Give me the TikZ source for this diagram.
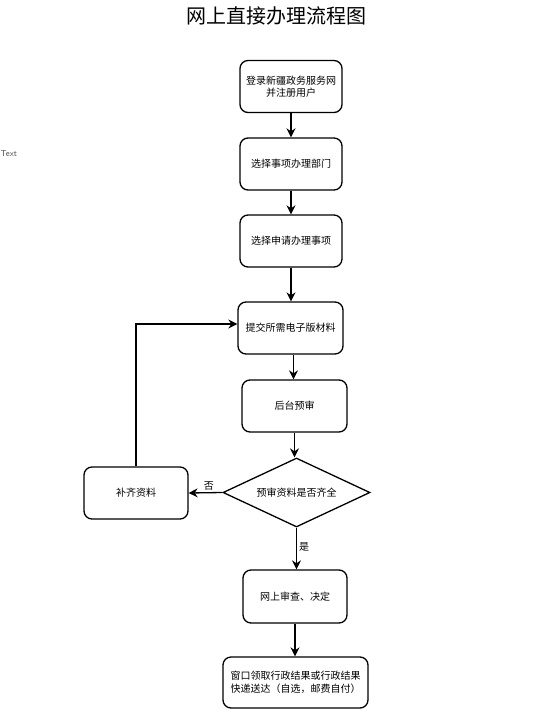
\documentclass[tikz,border=0pt]{standalone}
\usepackage{fontspec}
\newfontfamily\cjk{Noto Sans CJK SC}
\usetikzlibrary{shapes.geometric,arrows.meta}
\begin{document}
\begin{tikzpicture}[x=1pt,y=-1pt,
  box/.style={draw,line width=1.3pt,rounded corners=8pt,minimum width=102pt,minimum height=52pt,align=center,font=\cjk\fontsize{10}{12.5}\selectfont,inner sep=1pt},
  dia/.style={draw,line width=1.3pt,diamond,aspect=2.13,minimum width=147pt,minimum height=69pt,inner sep=0pt,font=\cjk\fontsize{10}{12}\selectfont},
  arr/.style={line width=1.3pt,-{Stealth[length=9pt,width=9pt]}},
  lbl/.style={font=\cjk\fontsize{10}{12}\selectfont}]
\useasboundingbox (0,0) rectangle (552,717);
\node[font=\cjk\fontsize{20}{22}\selectfont] (title) at (276,16) {网上直接办理流程图};
\node[font=\sffamily\fontsize{8.5}{10}\selectfont,text=black!70,anchor=west,inner sep=0pt] (txt) at (0.5,154) {Text};
\node[box] (b1) at (291,86.5) {登录新疆政务服务网\\并注册用户};
\node[box] (b2) at (291,164) {选择事项办理部门};
\node[box] (b3) at (291,241) {选择申请办理事项};
\node[box,minimum width=105pt] (b4) at (290.5,328) {提交所需电子版材料};
\node[box,minimum width=105pt] (b5) at (294.5,406) {后台预审};
\node[dia] (d) at (296.5,492.5) {预审资料是否齐全};
\node[box,minimum width=104pt] (bq) at (136,493) {补齐资料};
\node[box,minimum width=104pt,minimum height=53pt] (b6) at (295,596.5) {网上审查、决定};
\node[box,minimum width=145pt,minimum height=51pt] (b7) at (295.5,682.5) {窗口领取行政结果或行政结果\\快递送达（自选，邮费自付）};
\draw[arr] (b1.south) -- (b1.south |- b2.north);
\draw[arr] (b2.south) -- (b2.south |- b3.north);
\draw[arr] (b3.south) -- (b3.south |- b4.north);
\draw[arr] ([xshift=3pt]b4.south) -- ([xshift=3pt]b4.south |- b5.north);
\draw[arr] (b5.south) -- (b5.south |- d.north);
\draw[arr] (d.west) -- (bq.east) node[lbl,pos=0.4,above,inner sep=2pt] {否};
\coordinate (c1) at (136,324);
\draw[arr] (bq.north) -- (c1) -- (c1 -| b4.west);
\draw[arr] (d.south) -- (d.south |- b6.north) node[lbl,pos=0.45,right,inner sep=2pt] {是};
\draw[arr] (b6.south) -- (b6.south |- b7.north);
\end{tikzpicture}
\end{document}
